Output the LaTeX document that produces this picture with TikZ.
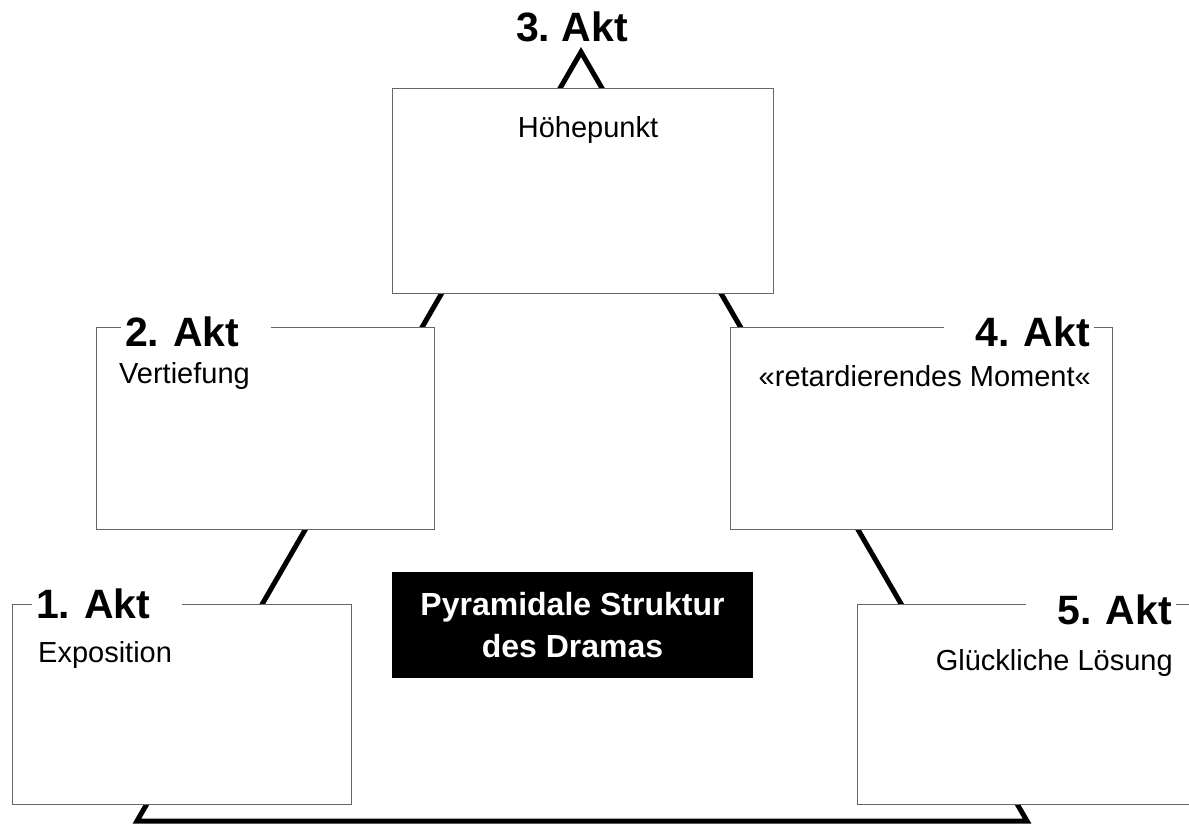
\documentclass[tikz,border=0pt]{standalone}
\usepackage{fontspec}
\setmainfont{Liberation Sans}
\frenchspacing

\begin{document}
\begin{tikzpicture}[x=1pt, y=-1pt,
	aktbox/.style={draw=black!60, line width=1.2pt, fill=white, anchor=north west, inner sep=0pt},
	aktlabel/.style={fill=white, inner xsep=4pt, inner ysep=0pt, text width=142pt, font=\fontsize{41}{49}\selectfont\bfseries},
	akttext/.style={inner sep=0pt, font=\fontsize{29}{35}\selectfont},
	ridge/.style={line width=5pt, line join=miter}]
	\path[use as bounding box] (0,0) rectangle (1189,826);
	\clip (0,0) rectangle (1189,826);
	\coordinate (base1) at (137,821);
	\coordinate (apex) at (581,52);
	\coordinate (base5) at (1027,821);
	\draw[ridge] (base1) -- (apex) -- (base5) -- cycle;
	\node[aktbox, minimum width=339pt, minimum height=200pt] (b1) at (12,604)  {};
	\node[aktbox, minimum width=338pt, minimum height=202pt] (b2) at (96,327)  {};
	\node[aktbox, minimum width=381pt, minimum height=205pt] (b3) at (392,88)  {};
	\node[aktbox, minimum width=382pt, minimum height=202pt] (b4) at (730,327) {};
	\node[aktbox, minimum width=345pt, minimum height=200pt] (b5) at (857,604) {};
	\node[aktlabel, align=left,  anchor=base west] (a1) at (32,618)   {1. Akt};
	\node[aktlabel, align=left,  anchor=base west] (a2) at (121,347)  {2. Akt};
	\node[aktlabel, align=right, anchor=base east] (a4) at (1094,347) {4. Akt};
	\node[aktlabel, align=right, anchor=base east] (a5) at (1176,624) {5. Akt};
	\node[inner sep=0pt, anchor=base, font=\fontsize{41}{49}\selectfont\bfseries] (a3) at (572,42) {3. Akt};
	\node[akttext, anchor=base west] (t1) at (38,662)   {Exposition};
	\node[akttext, anchor=base west] (t2) at (119,383)  {Vertiefung};
	\node[akttext, anchor=base]      (t3) at (588,138)  {Höhepunkt};
	\node[akttext, anchor=base east] (t4) at (1091,386) {«retardierendes Moment«};
	\node[akttext, anchor=base east] (t5) at (1173,670) {Glückliche Lösung};
	\node[fill=black, text=white, align=center, minimum width=361pt, minimum height=106pt,
		font=\fontsize{32}{42}\selectfont\bfseries] (title) at (572.5,625) {Pyramidale Struktur\\des Dramas};
\end{tikzpicture}
\end{document}
